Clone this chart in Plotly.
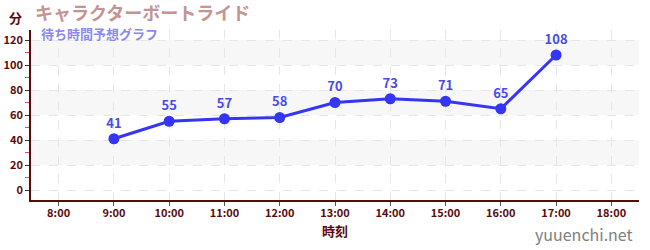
import plotly.graph_objects as go

hours = [9, 10, 11, 12, 13, 14, 15, 16, 17]
waits = [41, 55, 57, 58, 70, 73, 71, 65, 108]
tick_hours = list(range(8, 19))
tick_labels = [f"{h}:00" for h in tick_hours]
y_ticks = [0, 20, 40, 60, 80, 100, 120]

title_text = "キャラクターボートライド"
subtitle_text = "待ち時間予想グラフ"
font_cjk = "Noto Sans CJK JP"
axis_col = "#5a0a0a"

W, H = 650, 250
l, r, t, b = 31, 11, 30, 50
pw, ph = W - l - r, H - t - b


def px2paper(px, py):
    return (px - l) / pw, 1 - (py - t) / ph


fig = go.Figure()
fig.add_trace(go.Scatter(
    x=hours, y=waits, mode="lines+markers+text",
    text=[str(v) for v in waits], textposition="top center",
    textfont=dict(family=font_cjk, size=13, color="#4a4ae8", weight="bold"),
    line=dict(color="#3535f5", width=3),
    marker=dict(color="#3535f5", size=11),
    cliponaxis=False, hoverinfo="skip",
))

shapes = []
for lo in (20, 60, 100):
    shapes.append(dict(type="rect", xref="paper", yref="y", x0=0, x1=1, y0=lo, y1=lo + 20,
                       fillcolor="#f7f7f7", line=dict(width=0), layer="below"))

annots = []
for text, (px, py), size, color, anchor in [
    ("分", (15, 17), 13, axis_col, "center"),
    (title_text, (34, 12), 18, "#c49494", "left"),
    (subtitle_text, (40, 33), 13, "#8a8af0", "left"),
    ("yuuenchi.net", (634, 234), 16, "#808080", "right"),
]:
    xp, yp = px2paper(px, py)
    annots.append(dict(text=text, x=xp, y=yp, xref="paper", yref="paper", showarrow=False,
                       xanchor=anchor, yanchor="middle", borderpad=0,
                       font=dict(size=size, color=color, family=font_cjk,
                                 weight="normal" if text == "yuuenchi.net" else "bold")))

fig.update_layout(
    width=W, height=H,
    margin=dict(l=l, r=r, t=t, b=b),
    paper_bgcolor="white", plot_bgcolor="white",
    showlegend=False,
    shapes=shapes,
    annotations=annots,
    font=dict(family=font_cjk, color=axis_col),
    xaxis=dict(
        range=[7.5, 18.5], tickvals=tick_hours, ticktext=tick_labels,
        automargin=False,
        showline=True, linecolor=axis_col, linewidth=1.5,
        ticks="outside", ticklen=4, tickcolor="#555", ticklabelstandoff=-2,
        tickfont=dict(size=11, color=axis_col, family=font_cjk, weight="bold"),
        showgrid=True, gridcolor="#e6e6e6", griddash="dash", zeroline=False,
        title=dict(text="時刻", font=dict(size=13, color=axis_col, family=font_cjk, weight="bold"), standoff=8),
    ),
    yaxis=dict(
        range=[-8, 128], tickvals=y_ticks,
        automargin=False,
        showline=True, linecolor=axis_col, linewidth=1.5,
        ticks="outside", ticklen=4, tickcolor="#333",
        tickfont=dict(size=11, color=axis_col, family=font_cjk, weight="bold"),
        showgrid=True, gridcolor="#e6e6e6", griddash="dash", zeroline=False,
        minor=dict(dtick=10, tick0=10, ticks="outside", ticklen=4, tickcolor="#e05050", showgrid=False),
    ),
)

fig.write_html("out.html")
